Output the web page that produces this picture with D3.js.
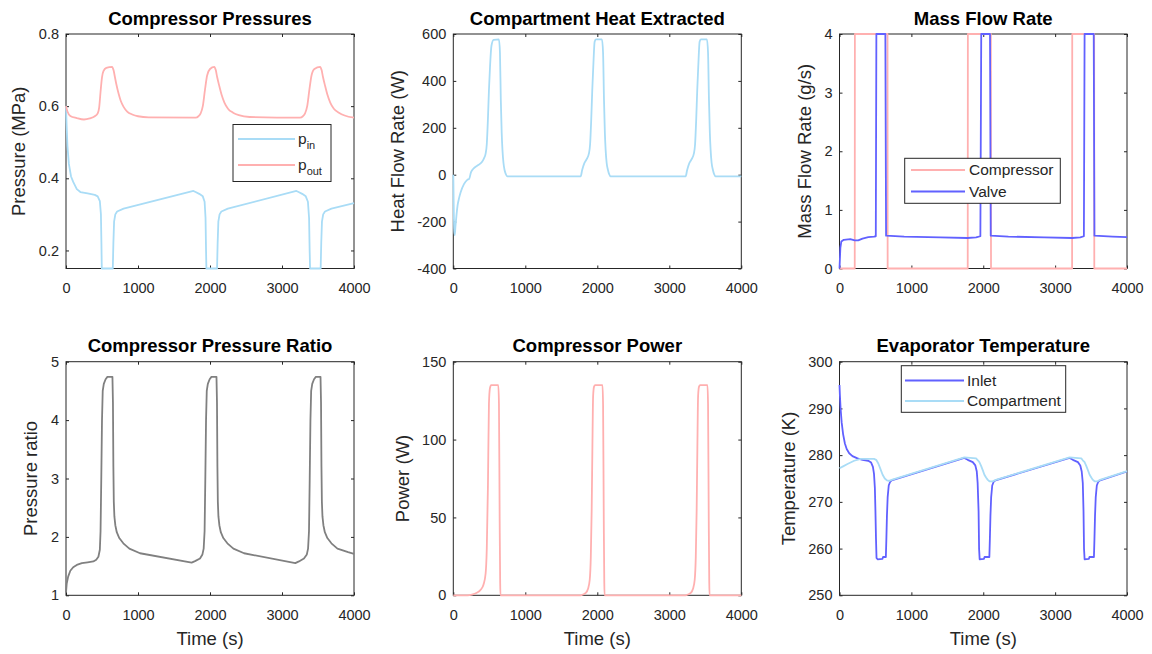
<!DOCTYPE html>
<html><head><meta charset="utf-8">
<script src="https://cdn.jsdelivr.net/npm/d3@7"></script>
<style>
body{margin:0;background:#fff;}
svg{display:block;font-family:"Liberation Sans",Arial,Helvetica,sans-serif;}
</style></head><body>
<svg id="chart" width="1152" height="654"></svg>
<script>
// ---------------- DATA ----------------
const xTicks = [0, 1000, 2000, 3000, 4000];
const pressureTicks = [0.2, 0.4, 0.6, 0.8];
const heatTicks = [-400, -200, 0, 200, 400, 600];
const massTicks = [0, 1, 2, 3, 4];
const ratioTicks = [1, 2, 3, 4, 5];
const powerTicks = [0, 50, 100, 150];
const tempTicks = [250, 260, 270, 280, 290, 300];

const pInT = [0,8,20,40,70,100,150,200,300,400, 440,470,485,492,497,650,658,668,685,710, 800,1770,1800,1850,1900,1925,1938,1945,1950,2098, 2106,2116,2133,2158,2248,3200,3230,3280,3330,3360, 3376,3384,3390,3537,3545,3555,3572,3597,3687,4000];
const pInV = [0.60,0.55,0.49,0.44,0.405,0.39,0.37,0.362,0.358,0.354, 0.35,0.337,0.30,0.22,0.15,0.15,0.22,0.28,0.30,0.308, 0.316,0.365,0.362,0.357,0.35,0.335,0.29,0.2,0.15,0.15, 0.22,0.28,0.30,0.308,0.316,0.365,0.362,0.357,0.35,0.335, 0.29,0.2,0.15,0.15,0.22,0.28,0.30,0.308,0.316,0.331];

const pOutT = [0,20,60,150,250,330,400,440,460,480, 500,520,560,640,660,680,700,730,760,800, 850,920,1000,1150,1800,1840,1870,1900,1930,1960, 2000,2060,2080,2100,2130,2160,2200,2250,2320,2400, 2550,3250,3290,3320,3350,3380,3410,3450,3530,3550, 3570,3600,3630,3670,3720,3790,3870,4000];
const pOutV = [0.600,0.585,0.573,0.567,0.563,0.566,0.572,0.58,0.595,0.64, 0.68,0.697,0.706,0.709,0.70,0.68,0.66,0.635,0.615,0.598, 0.585,0.577,0.572,0.569,0.568,0.572,0.58,0.60,0.645,0.685, 0.703,0.709,0.70,0.68,0.655,0.632,0.61,0.593,0.582,0.575, 0.570,0.568,0.572,0.58,0.60,0.645,0.685,0.703,0.709,0.70, 0.68,0.655,0.632,0.61,0.593,0.582,0.574,0.568];

const heatT = [0,5,12,20,30,45,60,80,102,148, 194,220,245,287,340,400,426,449,465,480, 495,510,530,560,634,648,660,672,683,697, 712,730,750,1769,1790,1815,1850,1884,1900,1915, 1930,1944,1963,1980,2065,2080,2093,2105,2116,2130, 2148,2165,2185,3227,3248,3273,3308,3342,3358,3373, 3388,3402,3421,3438,3523,3538,3551,3563,3574,3588, 3606,3623,3643,4000];
const heatV = [0,-120,-230,-258,-220,-170,-130,-100,-75,-40, -22,-18,10,28,40,55,70,90,130,230, 360,460,550,575,577,520,318,180,105,50, 20,2,-7,-7,20,45,65,91,130,230, 360,460,567,577,577,520,318,180,105,50, 20,2,-7,-7,20,45,65,91,130,230, 360,460,567,577,577,520,318,180,105,50, 20,2,-7,-7];

const massCompT = [0,212,214,668,670,1784,1786,2106,2108,3236,3238,3543,3545,4000];
const massCompV = [0,0,4,4,0,0,4,4,0,0,4,4,0,0];
const massValveT = [0,12,25,60,150,212,260,320,400,480, 505,513,638,648,900,1400,1780,1900,1960,1972, 2094,2104,2350,2850,3236,3350,3400,3410,3537,3547, 3800,4000];
const massValveV = [0,0.35,0.46,0.49,0.5,0.48,0.48,0.51,0.535,0.545, 0.55,4,4,0.56,0.545,0.53,0.52,0.53,0.55,4, 4,0.56,0.545,0.53,0.52,0.53,0.55,4,4,0.56, 0.545,0.535];

const ratioT = [0,10,30,60,100,150,220,300,380,420, 450,470,480,490,500,510,525,550,575,645, 652,658,664,672,685,705,740,796,880,1028, 1745,1792,1861,1895,1912,1925,1935,1945,1955,1970, 1995,2020,2090,2097,2103,2109,2117,2130,2150,2185, 2241,2325,2473,3185,3235,3305,3345,3362,3375,3385, 3395,3405,3420,3445,3470,3535,3542,3548,3554,3562, 3575,3595,3630,3686,3770,3918,4000];
const ratioV = [1.05,1.2,1.32,1.42,1.48,1.52,1.55,1.565,1.58,1.61, 1.66,1.78,2.1,3.0,4.0,4.5,4.62,4.7,4.74,4.74, 4.3,3.2,2.6,2.35,2.2,2.08,1.98,1.89,1.8,1.72, 1.56,1.585,1.63,1.7,1.8,2.1,3.0,4.0,4.5,4.62, 4.7,4.74,4.74,4.3,3.2,2.6,2.35,2.2,2.08,1.98, 1.89,1.8,1.72,1.55,1.58,1.63,1.7,1.8,2.1,3.0, 4.0,4.5,4.62,4.7,4.74,4.74,4.3,3.2,2.6,2.35, 2.2,2.08,1.98,1.89,1.8,1.74,1.71];

const powerT = [0,200,260,320,380,420,449,465,481,495, 509,525,625,634,644,651,655,1769,1800,1840, 1870,1895,1910,1922,1932,1942,1955,1970,2072,2080, 2090,2097,2101,3227,3258,3298,3328,3353,3368,3380, 3390,3400,3413,3428,3530,3538,3548,3555,3559,4000];
const powerV = [0,0,0.5,1.5,3.5,7,14,30,70,123, 133,135,135,123,48,8,0,0,0.5,1.5, 4,10,25,55,95,128,134,135,135,123, 48,8,0,0,0.5,1.5,4,10,25,55, 95,128,134,135,135,123,48,8,0,0];

const inletT = [0,5,15,30,50,75,100,135,180,250, 320,400,440,465,480,492,500,508,515,530, 598,606,645,652,660,670,685,705,725,1737, 1784,1854,1890,1910,1922,1935,1942,1950,2010,2018, 2085,2092,2100,2110,2125,2145,2170,3201,3247,3317, 3350,3370,3385,3395,3402,3410,3470,3478,3540,3547, 3555,3565,3580,3600,3625,4000];
const inletV = [295,293,290,287,284.5,282.5,281.3,280.4,279.8,279.3, 279.0,278.8,278.4,277.5,276,273,268,262,258,257.7, 257.8,258.2,258.2,262,267,271,273.5,274.3,274.6,279.4, 279.0,278.5,277.8,276.5,274,268,260,257.7,257.8,258.2, 258.2,262,267,271,273.5,274.3,274.6,279.4,279.0,278.5, 277.8,276.5,274,268,260,257.7,257.8,258.2,258.2,262, 267,271,273.5,274.3,274.6,276.5];

const compartT = [0,50,111,204,297,480,510,540,570,600, 630,660,690,725,1737,1900,1925,1946,1970,1993, 2016,2039,2063,2086,2130,2175,3201,3364,3385,3410, 3433,3456,3480,3503,3526,3549,3590,3625,4000];
const compartV = [277.2,277.6,278.1,278.8,279.2,279.2,279.0,278.2,277.0,275.8, 275.0,274.6,274.5,274.7,279.5,279.3,278.9,278.5,277.7,276.8, 275.8,275.2,274.7,274.4,274.4,274.7,279.5,279.3,278.9,278.5, 277.7,276.8,275.8,275.2,274.7,274.4,274.4,274.7,276.6];

// ---------------- LAYOUT ----------------
const svg = d3.select("#chart");
const cols = [[66, 354], [453.3, 741.3], [839.5, 1127]];
const rowsY = [[34, 268.5], [361.7, 595.3]];
const C = {lightBlue: "#a9dcf6", pink: "#ffb0b0", blue: "#6161ff", gray: "#808080", axis: "#262626"};
const FS = {title: 18.5, label: 18.5, tick: 14.5, legend: 15.5};
const smooth = d3.curveMonotoneX, straight = d3.curveLinear;

const panels = [
  {col: 0, row: 0, title: "Compressor Pressures", ylabel: "Pressure (MPa)", yDomain: [0.15, 0.8], yTicks: pressureTicks,
   series: [{t: pInT, v: pInV, color: C.lightBlue, name: ["p", "in"], curve: straight}, {t: pOutT, v: pOutV, color: C.pink, name: ["p", "out"], curve: smooth}],
   legend: {x: 233, y: 124.5, w: 98, h: 57, rows: [139, 165], lx: [238, 295], tx: 298}},
  {col: 1, row: 0, title: "Compartment Heat Extracted", ylabel: "Heat Flow Rate (W)", yDomain: [-400, 600], yTicks: heatTicks,
   series: [{t: heatT, v: heatV, color: C.lightBlue, curve: smooth}]},
  {col: 2, row: 0, title: "Mass Flow Rate", ylabel: "Mass Flow Rate (g/s)", yDomain: [0, 4], yTicks: massTicks,
   series: [{t: massCompT, v: massCompV, color: C.pink, name: ["Compressor"], curve: straight}, {t: massValveT, v: massValveV, color: C.blue, name: ["Valve"], curve: straight}],
   legend: {x: 904.7, y: 158.3, w: 155.6, h: 45, rows: [170, 191.5], lx: [911, 965], tx: 969}},
  {col: 0, row: 1, title: "Compressor Pressure Ratio", ylabel: "Pressure ratio", xlabel: "Time (s)", yDomain: [1, 5], yTicks: ratioTicks,
   series: [{t: ratioT, v: ratioV, color: C.gray, curve: straight}]},
  {col: 1, row: 1, title: "Compressor Power", ylabel: "Power (W)", xlabel: "Time (s)", yDomain: [0, 150], yTicks: powerTicks,
   series: [{t: powerT, v: powerV, color: C.pink, curve: smooth}]},
  {col: 2, row: 1, title: "Evaporator Temperature", ylabel: "Temperature (K)", xlabel: "Time (s)", yDomain: [250, 300], yTicks: tempTicks,
   series: [{t: inletT, v: inletV, color: C.blue, name: ["Inlet"], curve: straight}, {t: compartT, v: compartV, color: C.lightBlue, name: ["Compartment"], curve: straight}],
   legend: {x: 901.3, y: 365.7, w: 164.4, h: 46.6, rows: [380.5, 401], lx: [905, 964], tx: 967}}
];

panels.forEach((p, i) => {
  const [x0, x1] = cols[p.col];
  const [y0, y1] = rowsY[p.row];
  const x = d3.scaleLinear().domain([0, 4000]).range([x0, x1]);
  const y = d3.scaleLinear().domain(p.yDomain).range([y1, y0]);
  const g = svg.append("g");

  const fmt = d => String(d);
  const ax = g.append("g").attr("transform", `translate(0,${y1})`)
    .call(d3.axisBottom(x).tickValues(xTicks).tickFormat(fmt).tickSizeInner(-3).tickSizeOuter(0).tickPadding(14));
  const ay = g.append("g").attr("transform", `translate(${x0},0)`)
    .call(d3.axisLeft(y).tickValues(p.yTicks).tickFormat(fmt).tickSizeInner(-3).tickSizeOuter(0).tickPadding(7));
  const at = g.append("g").attr("transform", `translate(0,${y0})`)
    .call(d3.axisTop(x).tickValues(xTicks).tickFormat("").tickSizeInner(-3).tickSizeOuter(0));
  const ar = g.append("g").attr("transform", `translate(${x1},0)`)
    .call(d3.axisRight(y).tickValues(p.yTicks).tickFormat("").tickSizeInner(-3).tickSizeOuter(0));
  [ax, ay, at, ar].forEach(a => {
    a.select(".domain").remove();
    a.selectAll("line").attr("stroke", C.axis).attr("stroke-width", 1);
    a.selectAll("text").attr("fill", C.axis).style("font-size", FS.tick + "px").attr("font-family", null);
  });
  g.append("rect").attr("x", x0).attr("y", y0).attr("width", x1 - x0).attr("height", y1 - y0)
    .attr("fill", "none").attr("stroke", C.axis).attr("stroke-width", 1);

  const cid = "clip" + i;
  svg.append("clipPath").attr("id", cid).append("rect")
    .attr("x", x0 - 2).attr("y", y0 - 2).attr("width", x1 - x0 + 4).attr("height", y1 - y0 + 4);

  const lg = g.append("g").attr("clip-path", `url(#${cid})`);
  p.series.forEach(s => {
    const line = d3.line().x(d => x(d[0])).y(d => y(d[1])).curve(s.curve);
    lg.append("path").datum(d3.zip(s.t, s.v))
      .attr("d", line).attr("fill", "none").attr("stroke", s.color)
      .attr("stroke-width", 1.8).attr("stroke-linejoin", "round");
  });

  g.append("text").attr("x", (x0 + x1) / 2).attr("y", y0 - 9.5).attr("text-anchor", "middle")
    .style("font-size", FS.title + "px").style("font-weight", "bold").attr("fill", "#000").text(p.title);

  let maxW = 0;
  ay.selectAll("text").each(function () { maxW = Math.max(maxW, this.getComputedTextLength()); });
  const lx = x0 - 7 - maxW - 20;
  g.append("text").attr("transform", `translate(${lx},${(y0 + y1) / 2}) rotate(-90)`)
    .attr("text-anchor", "middle").attr("dy", "0.35em").attr("fill", C.axis)
    .style("font-size", FS.label + "px").text(p.ylabel);

  if (p.xlabel) {
    g.append("text").attr("x", (x0 + x1) / 2).attr("y", y1 + 50).attr("text-anchor", "middle")
      .attr("fill", C.axis).style("font-size", FS.label + "px").text(p.xlabel);
  }

  if (p.legend) {
    const L = p.legend;
    const lgd = g.append("g");
    lgd.append("rect").attr("x", L.x).attr("y", L.y).attr("width", L.w).attr("height", L.h)
      .attr("fill", "#fff").attr("stroke", C.axis).attr("stroke-width", 1);
    p.series.forEach((s, k) => {
      const ry = L.rows[k];
      lgd.append("line").attr("x1", L.lx[0]).attr("x2", L.lx[1]).attr("y1", ry).attr("y2", ry)
        .attr("stroke", s.color).attr("stroke-width", 1.8);
      const t = lgd.append("text").attr("x", L.tx).attr("y", ry).attr("dy", "0.35em")
        .attr("fill", C.axis).style("font-size", FS.legend + "px");
      t.append("tspan").text(s.name[0]);
      if (s.name[1]) t.append("tspan").attr("dy", 5).style("font-size", "11px").text(s.name[1]);
    });
  }
});
</script>
</body></html>
